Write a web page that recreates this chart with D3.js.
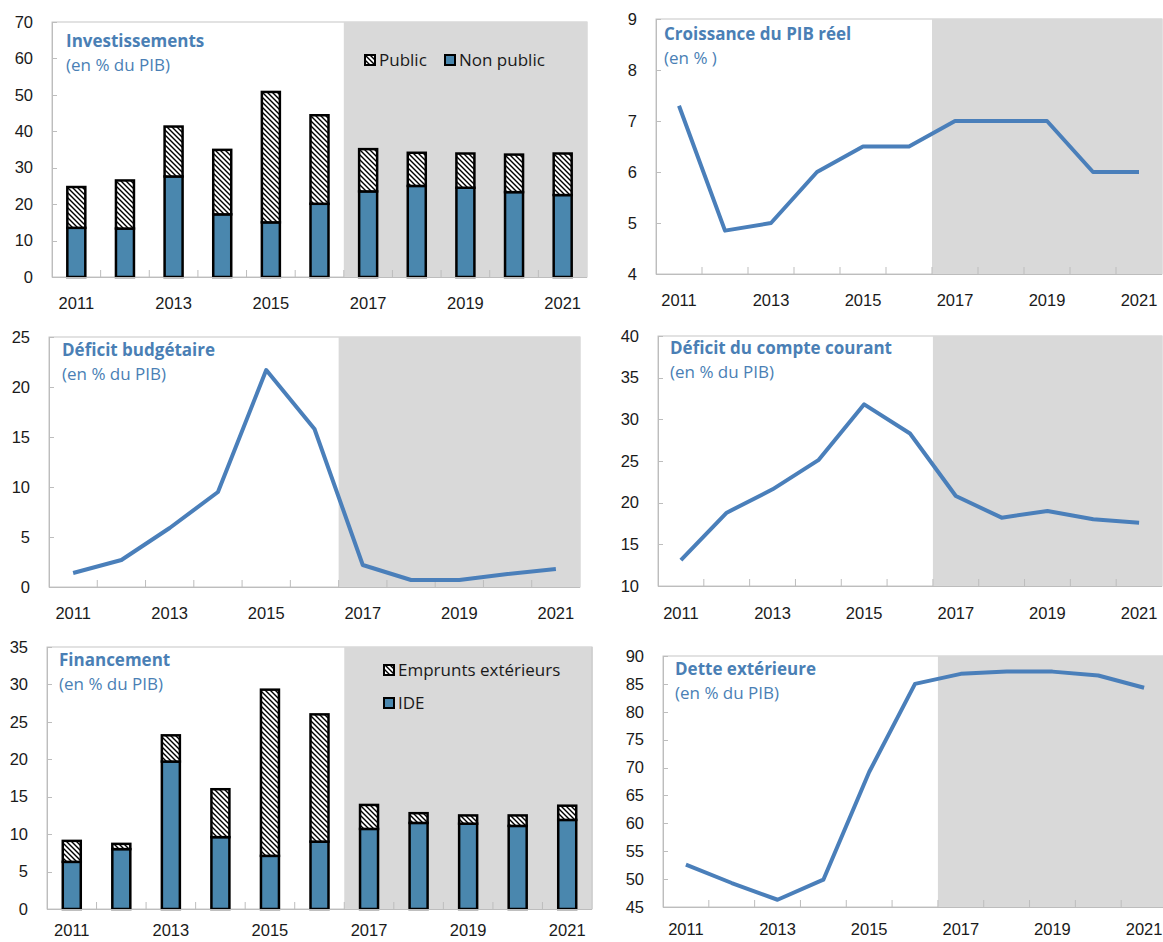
<!DOCTYPE html>
<html>
<head>
<meta charset="utf-8">
<script src="https://cdn.jsdelivr.net/npm/d3@7"></script>
<style>
  html, body { margin: 0; padding: 0; background: #fff; }
  svg { display: block; font-family: "Open Sans", "Noto Sans", sans-serif; }
</style>
</head>
<body>
<svg id="chart" width="1163" height="942"></svg>
<script>
// ---------------- DATA ----------------
const years = ["2011","2012","2013","2014","2015","2016","2017","2018","2019","2020","2021"];
const yearLabels = ["2011","2013","2015","2017","2019","2021"];
const projectionStart = "2017";

// Investissements (en % du PIB)
const investNonPublic = [13.5, 13.3, 27.6, 17.2, 15.0, 20.1, 23.5, 25.0, 24.5, 23.3, 22.5];
const investPublic    = [11.2, 13.2, 13.7, 17.7, 35.8, 24.3, 11.6,  9.1,  9.4, 10.3, 11.4];

// Croissance du PIB réel (en %)
const gdpGrowth = [7.3, 4.85, 5.0, 6.0, 6.5, 6.5, 7.0, 7.0, 7.0, 6.0, 6.0];

// Déficit budgétaire (en % du PIB)
const budgetDeficit = [1.4, 2.7, 5.9, 9.5, 21.7, 15.8, 2.2, 0.7, 0.7, 1.3, 1.8];

// Déficit du compte courant (en % du PIB)
const currentAccountDeficit = [13.1, 18.8, 21.6, 25.1, 31.8, 28.3, 20.8, 18.2, 19.0, 18.0, 17.6];

// Financement (en % du PIB)
const fdi          = [6.3, 8.0, 19.7, 9.6, 7.1, 9.0, 10.7, 11.5, 11.4, 11.1, 11.9];
const extBorrowing = [2.8, 0.7, 3.5, 6.4, 22.2, 17.0, 3.2, 1.3, 1.1, 1.4, 1.9];

// Dette extérieure (en % du PIB)
const externalDebt = [52.6, 49.3, 46.3, 49.9, 69.2, 85.0, 86.8, 87.2, 87.2, 86.5, 84.3];

// Axis ticks
const investTicks  = [0,10,20,30,40,50,60,70];
const growthTicks  = [4,5,6,7,8,9];
const budgetTicks  = [0,5,10,15,20,25];
const currentTicks = [10,15,20,25,30,35,40];
const financeTicks = [0,5,10,15,20,25,30,35];
const debtTicks    = [45,50,55,60,65,70,75,80,85,90];

// ---------------- STYLE ----------------
const BLUE_LINE = "#4a7fba";
const BLUE_BAR = "#4a87ae";
const TITLE_BLUE = "#4a7fb5";
const SHADE = "#d9d9d9";
const AXIS = "#bdbdbd";
const TEXT = "#1a1a1a";

const svg = d3.select("#chart");
const defs = svg.append("defs");
const pat = defs.append("pattern")
  .attr("id", "hatch")
  .attr("patternUnits", "userSpaceOnUse")
  .attr("width", 5).attr("height", 5);
pat.append("rect").attr("width", 5).attr("height", 5).attr("fill", "#fff");
pat.append("path")
  .attr("d", "M-1,-1L6,6M-1,4L1,6M4,-1L6,1")
  .attr("stroke", "#000").attr("stroke-width", 1.4);

function panel(opt) {
  const g = svg.append("g");
  const x = d3.scaleBand().domain(years).range([opt.left, opt.right]).padding(0);
  const y = d3.scaleLinear().domain(opt.domain).range([opt.bottom, opt.top]);

  // plot background
  g.append("rect")
    .attr("x", opt.left).attr("y", opt.top)
    .attr("width", opt.right - opt.left).attr("height", opt.bottom - opt.top)
    .attr("fill", "#fff").attr("stroke", "#c6c6c6").attr("stroke-width", 1);
  // projection shading
  g.append("rect")
    .attr("x", x(projectionStart)).attr("y", opt.top)
    .attr("width", opt.right - x(projectionStart)).attr("height", opt.bottom - opt.top)
    .attr("fill", SHADE);
  if (opt.rightBorder) {
    g.append("line")
      .attr("x1", opt.right).attr("x2", opt.right)
      .attr("y1", opt.top).attr("y2", opt.bottom)
      .attr("stroke", "#c6c6c6");
  }

  // axes
  const yAxis = d3.axisLeft(y).tickValues(opt.ticks).tickSize(0).tickPadding(19)
    .tickFormat(d3.format("d"));
  const ya = g.append("g").attr("transform", `translate(${opt.left},0)`).call(yAxis);
  ya.select(".domain").remove();
  ya.selectAll("text").attr("font-size", "16.5px").attr("fill", TEXT);
  // inward y ticks
  g.selectAll(null).data(opt.ticks).enter().append("line")
    .attr("x1", opt.left).attr("x2", opt.left + 5)
    .attr("y1", d => Math.round(y(d)) + 0.5).attr("y2", d => Math.round(y(d)) + 0.5)
    .attr("stroke", AXIS);

  // x boundary ticks (inward)
  const bounds = years.slice(1).map(d => x(d));
  g.selectAll(null).data(bounds).enter().append("line")
    .attr("x1", d => d).attr("x2", d => d)
    .attr("y1", opt.bottom - 7).attr("y2", opt.bottom)
    .attr("stroke", AXIS);

  // x labels
  const xa = d3.axisBottom(x).tickValues(yearLabels).tickSize(0).tickPadding(0);
  const xg = g.append("g").attr("transform", `translate(0,${opt.labelY})`).call(xa);
  xg.select(".domain").remove();
  xg.selectAll("text").attr("font-size", "16.5px").attr("fill", TEXT).attr("dy", 0);

  // data
  if (opt.bars) {
    const bw = 18;
    const stackData = d3.stack().keys([0, 1])
      (years.map((yr, i) => ({ year: yr, 0: opt.bars[0][i], 1: opt.bars[1][i] })));
    const fills = [BLUE_BAR, "url(#hatch)"];
    stackData.forEach((layer, li) => {
      g.selectAll(null).data(layer).enter().append("rect")
        .attr("x", d => x(d.data.year) + x.bandwidth() / 2 - bw / 2)
        .attr("y", d => y(d[1]))
        .attr("width", bw)
        .attr("height", d => y(d[0]) - y(d[1]))
        .attr("fill", fills[li])
        .attr("stroke", "#000").attr("stroke-width", 2.5);
    });
  }
  if (opt.line) {
    const line = d3.line()
      .x((d, i) => x(years[i]) + x.bandwidth() / 2)
      .y(d => y(d));
    g.append("path").datum(opt.line)
      .attr("d", line)
      .attr("fill", "none").attr("stroke", BLUE_LINE)
      .attr("stroke-width", 4).attr("stroke-linejoin", "round").attr("stroke-linecap", "butt");
  }

  // axis lines
  g.append("line").attr("x1", opt.left + 0.5).attr("x2", opt.left + 0.5)
    .attr("y1", opt.top).attr("y2", opt.bottom).attr("stroke", AXIS);
  g.append("line").attr("x1", opt.left).attr("x2", opt.right)
    .attr("y1", opt.bottom + 0.5).attr("y2", opt.bottom + 0.5).attr("stroke", AXIS);

  // titles
  g.append("text").attr("x", opt.titleX).attr("y", opt.titleY)
    .attr("font-size", "17px").attr("font-weight", "bold").attr("fill", TITLE_BLUE)
    .text(opt.title);
  g.append("text").attr("x", opt.titleX).attr("y", opt.titleY + 24)
    .attr("font-size", "17px").attr("fill", TITLE_BLUE)
    .text(opt.subtitle);

  // legend
  if (opt.legend) {
    opt.legend.forEach(l => {
      g.append("rect").attr("x", l.x).attr("y", l.y - 10)
        .attr("width", 10).attr("height", 10)
        .attr("fill", l.fill).attr("stroke", "#000").attr("stroke-width", 2);
      g.append("text").attr("x", l.x + 14).attr("y", l.y + 1)
        .attr("font-size", "17px").attr("fill", TEXT).text(l.label);
    });
  }
}

panel({
  left: 52, right: 587, top: 22, bottom: 277, domain: [0, 70], ticks: investTicks,
  labelY: 309, bars: [investNonPublic, investPublic],
  title: "Investissements", subtitle: "(en % du PIB)", titleX: 66, titleY: 47,
  legend: [
    { x: 365, y: 65, fill: "url(#hatch)", label: "Public" },
    { x: 445, y: 65, fill: BLUE_BAR, label: "Non public" }
  ]
});

panel({
  left: 656, right: 1162, top: 19, bottom: 274, domain: [4, 9], ticks: growthTicks,
  labelY: 306, line: gdpGrowth,
  title: "Croissance du PIB réel", subtitle: "(en % )", titleX: 664, titleY: 40
});

panel({
  left: 49, right: 580, top: 337, bottom: 587, domain: [0, 25], ticks: budgetTicks,
  labelY: 619, line: budgetDeficit,
  title: "Déficit budgétaire", subtitle: "(en % du PIB)", titleX: 62, titleY: 356
});

panel({
  left: 658, right: 1162, top: 336, bottom: 586, domain: [10, 40], ticks: currentTicks,
  labelY: 619, line: currentAccountDeficit,
  title: "Déficit du compte courant", subtitle: "(en % du PIB)", titleX: 670, titleY: 354
});

panel({
  left: 47, right: 592, top: 647, bottom: 909, domain: [0, 35], ticks: financeTicks,
  labelY: 936, bars: [fdi, extBorrowing], rightBorder: true,
  title: "Financement", subtitle: "(en % du PIB)", titleX: 59, titleY: 666,
  legend: [
    { x: 384, y: 675, fill: "url(#hatch)", label: "Emprunts extérieurs" },
    { x: 384, y: 708, fill: BLUE_BAR, label: "IDE" }
  ]
});

panel({
  left: 663, right: 1167, top: 656, bottom: 907, domain: [45, 90], ticks: debtTicks,
  labelY: 935, line: externalDebt,
  title: "Dette extérieure", subtitle: "(en % du PIB)", titleX: 675, titleY: 675
});
</script>
</body>
</html>
